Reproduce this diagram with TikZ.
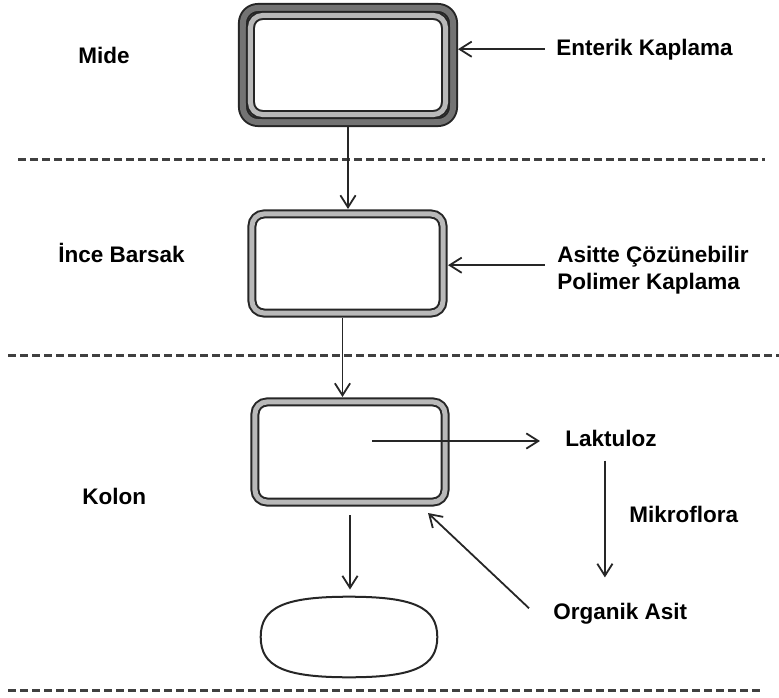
\documentclass[tikz,border=0pt]{standalone}
\usepackage{fontspec}
\setmainfont{Liberation Sans}
\usetikzlibrary{arrows.meta}

\begin{document}
\begin{tikzpicture}[
x=0.025cm, y=-0.025cm,
lbl/.style={font=\bfseries\fontsize{16pt}{18.5pt}\selectfont, inner sep=0pt, anchor=base west, align=left},
capsule/.style={draw=black!85, line width=0.05cm, double=gray!55, double distance=0.125cm, fill=white, rounded corners=0.3cm, inner sep=0pt, outer sep=0.125cm},
coat/.style={draw=black!85, line width=0.05cm, double=gray!90!black, double distance=0.15cm, rounded corners=0.375cm, inner sep=0pt, outer sep=0.125cm},
arr/.style={draw=black!85, line width=0.045cm, -{Straight Barb[length=0.3cm,width=0.38cm]}},
divider/.style={draw=black!75, line width=0.075cm, dash pattern=on 0.2cm off 0.1cm}
]
\useasboundingbox (0,0) rectangle (779,698);

% Layers
\draw[divider] (18,159) -- (765,159);
\draw[divider] (8,355) -- (779,355);
\draw[divider] (8,690) -- (764,690);

% Nodes
\node[lbl] (midelbl) at (78,63) {Mide};
\node[lbl] (incelbl) at (58,262) {İnce Barsak};
\node[lbl] (kolonlbl) at (82,504) {Kolon};

\node[coat, minimum width=5.25cm, minimum height=2.85cm] (midecoat) at (348,65) {};
\node[capsule, minimum width=4.875cm, minimum height=2.475cm] (mide) at (348,65) {};
\node[capsule, minimum width=4.775cm, minimum height=2.475cm] (ince) at (347.5,263.5) {};
\node[capsule, minimum width=4.75cm, minimum height=2.5cm] (kolon) at (350,452) {};
\node[minimum width=4.4cm, minimum height=2cm] (release) at (349,637) {};
\draw[black!85, line width=0.05cm] (release.north)
  .. controls ([shift={(64,0)}]release.north) and ([shift={(0,-30)}]release.east) .. (release.east)
  .. controls ([shift={(0,30)}]release.east) and ([shift={(64,0)}]release.south) .. (release.south)
  .. controls ([shift={(-64,0)}]release.south) and ([shift={(0,30)}]release.west) .. (release.west)
  .. controls ([shift={(0,-30)}]release.west) and ([shift={(-64,0)}]release.north) .. cycle;

\node[lbl] (enterik) at (556,55) {Enterik Kaplama};
\node[lbl] (polimer) at (557,289) {Asitte Çözünebilir\\Polimer Kaplama};
\node[lbl] (laktuloz) at (565,446) {Laktuloz};
\node[lbl] (mikroflora) at (629,522) {Mikroflora};
\node[lbl] (organik) at (553,619) {Organik Asit};
\coordinate (lakstart) at (372,441);

% Arrows
\draw[arr] (midecoat.south) -- (midecoat.south |- ince.north);
\draw[arr] ([shift={(-5,0)}]ince.south) -- ([shift={(-5,0)}]ince.south |- kolon.north);
\draw[arr, shorten <=0.2cm, shorten >=0.18cm] (kolon.south) -- (kolon.south |- release.north);
\draw[arr, shorten <=0.275cm] (enterik.west) -- (enterik.west -| midecoat.east);
\draw[arr, shorten <=0.3cm] ([shift={(0,-5)}]polimer.west) -- ([shift={(0,-5)}]polimer.west -| ince.east);
\draw[arr, shorten >=0.625cm] (lakstart) -- (lakstart -| laktuloz.west);
\draw[arr, shorten <=0.35cm, shorten >=0.625cm] ([shift={(-6,0)}]laktuloz.south) -- ([shift={(-6,0)}]laktuloz.south |- organik.north);
\draw[arr] ([shift={(-24,-5)}]organik.west) -- ([shift={(-22,6)}]kolon.south east);
\end{tikzpicture}
\end{document}
